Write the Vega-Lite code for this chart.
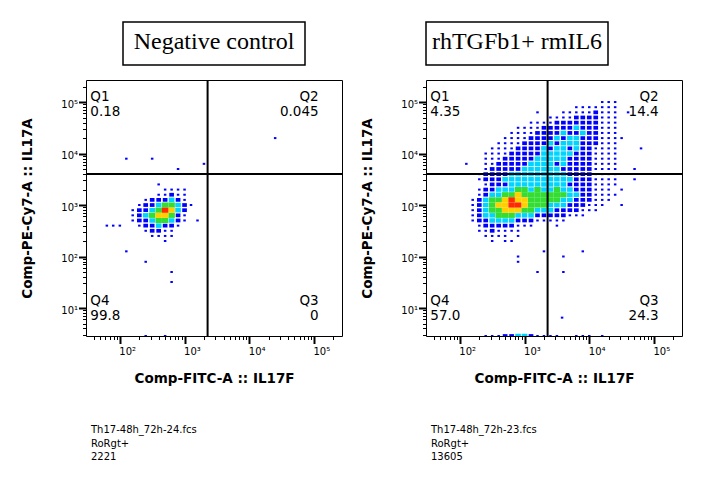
{
  "$schema": "https://vega.github.io/schema/vega-lite/v6.json",
  "padding": {"left": 20, "top": 21, "right": 5, "bottom": 5},
  "background": "white",
  "columns": 2,
  "bounds": "flush",
  "center": true,
  "spacing": {"row": 15, "column": 84},
  "datasets": {
    "neg": [
      {"x":398,"y":2512,"d":1},
      {"x":501,"y":1995,"d":1},{"x":631,"y":1995,"d":1},{"x":794,"y":1995,"d":1},{"x":1000,"y":1995,"d":1},
      {"x":398,"y":1585,"d":1},{"x":501,"y":1585,"d":1},{"x":631,"y":1585,"d":2},{"x":794,"y":1585,"d":1},{"x":1000,"y":1585,"d":1},
      {"x":251,"y":1259,"d":1},{"x":316,"y":1259,"d":2},{"x":398,"y":1259,"d":2},{"x":501,"y":1259,"d":2},{"x":631,"y":1259,"d":3},{"x":794,"y":1259,"d":2},{"x":1000,"y":1259,"d":1},
      {"x":200,"y":1000,"d":1},{"x":251,"y":1000,"d":2},{"x":316,"y":1000,"d":2},{"x":398,"y":1000,"d":3},{"x":501,"y":1000,"d":4},{"x":631,"y":1000,"d":4},{"x":794,"y":1000,"d":3},{"x":1000,"y":1000,"d":2},{"x":1259,"y":1000,"d":1},
      {"x":158,"y":794,"d":1},{"x":200,"y":794,"d":2},{"x":251,"y":794,"d":2},{"x":316,"y":794,"d":3},{"x":398,"y":794,"d":4},{"x":501,"y":794,"d":6},{"x":631,"y":794,"d":5},{"x":794,"y":794,"d":3},{"x":1000,"y":794,"d":2},
      {"x":158,"y":631,"d":1},{"x":200,"y":631,"d":2},{"x":251,"y":631,"d":3},{"x":316,"y":631,"d":4},{"x":398,"y":631,"d":5},{"x":501,"y":631,"d":5},{"x":631,"y":631,"d":4},{"x":794,"y":631,"d":2},{"x":1000,"y":631,"d":1},
      {"x":158,"y":501,"d":1},{"x":200,"y":501,"d":2},{"x":251,"y":501,"d":2},{"x":316,"y":501,"d":3},{"x":398,"y":501,"d":4},{"x":501,"y":501,"d":4},{"x":631,"y":501,"d":3},{"x":794,"y":501,"d":2},{"x":1000,"y":501,"d":1},
      {"x":200,"y":398,"d":1},{"x":251,"y":398,"d":2},{"x":316,"y":398,"d":2},{"x":398,"y":398,"d":3},{"x":501,"y":398,"d":2},{"x":631,"y":398,"d":2},{"x":794,"y":398,"d":1},
      {"x":251,"y":316,"d":1},{"x":316,"y":316,"d":2},{"x":398,"y":316,"d":2},{"x":501,"y":316,"d":1},{"x":631,"y":316,"d":1},
      {"x":316,"y":251,"d":1},{"x":398,"y":251,"d":1},{"x":501,"y":251,"d":1},{"x":631,"y":251,"d":1},
      {"x":501,"y":200,"d":1},
      {"x":126,"y":7943,"d":1},{"x":316,"y":7943,"d":1},{"x":794,"y":5012,"d":1},{"x":1995,"y":6310,"d":1},{"x":25119,"y":19953,"d":1},
      {"x":126,"y":126,"d":1},{"x":251,"y":79,"d":1},{"x":631,"y":50,"d":1},{"x":631,"y":32,"d":1},{"x":1585,"y":501,"d":1},
      {"x":100,"y":398,"d":1},{"x":63,"y":398,"d":1},{"x":79,"y":398,"d":1},{"x":251,"y":2.86,"d":1},{"x":501,"y":2.86,"d":1}
    ],
    "trt": [
      {"x":15849,"y":100000,"d":1},{"x":19953,"y":100000,"d":1},{"x":25119,"y":100000,"d":1},
      {"x":6310,"y":79433,"d":1},{"x":7943,"y":79433,"d":1},{"x":10000,"y":79433,"d":1},{"x":12589,"y":79433,"d":1},{"x":15849,"y":79433,"d":1},{"x":19953,"y":79433,"d":1},{"x":25119,"y":79433,"d":1},
      {"x":1585,"y":63096,"d":1},{"x":3981,"y":63096,"d":1},{"x":5012,"y":63096,"d":1},{"x":6310,"y":63096,"d":1},{"x":7943,"y":63096,"d":1},{"x":10000,"y":63096,"d":1},{"x":12589,"y":63096,"d":2},{"x":15849,"y":63096,"d":1},{"x":19953,"y":63096,"d":1},{"x":25119,"y":63096,"d":1},{"x":39811,"y":63096,"d":1},
      {"x":2512,"y":50119,"d":1},{"x":3162,"y":50119,"d":1},{"x":3981,"y":50119,"d":1},{"x":5012,"y":50119,"d":1},{"x":6310,"y":50119,"d":2},{"x":7943,"y":50119,"d":2},{"x":10000,"y":50119,"d":2},{"x":12589,"y":50119,"d":2},{"x":15849,"y":50119,"d":1},{"x":19953,"y":50119,"d":1},{"x":25119,"y":50119,"d":1},
      {"x":1259,"y":39811,"d":1},{"x":1585,"y":39811,"d":1},{"x":1995,"y":39811,"d":1},{"x":2512,"y":39811,"d":1},{"x":3162,"y":39811,"d":2},{"x":3981,"y":39811,"d":2},{"x":5012,"y":39811,"d":2},{"x":6310,"y":39811,"d":2},{"x":7943,"y":39811,"d":2},{"x":10000,"y":39811,"d":2},{"x":12589,"y":39811,"d":2},{"x":15849,"y":39811,"d":1},{"x":19953,"y":39811,"d":1},{"x":25119,"y":39811,"d":1},
      {"x":794,"y":31623,"d":1},{"x":1000,"y":31623,"d":1},{"x":1259,"y":31623,"d":1},{"x":1585,"y":31623,"d":1},{"x":1995,"y":31623,"d":2},{"x":2512,"y":31623,"d":2},{"x":3162,"y":31623,"d":2},{"x":3981,"y":31623,"d":2},{"x":5012,"y":31623,"d":2},{"x":6310,"y":31623,"d":3},{"x":7943,"y":31623,"d":2},{"x":10000,"y":31623,"d":2},{"x":12589,"y":31623,"d":2},{"x":15849,"y":31623,"d":1},{"x":19953,"y":31623,"d":1},{"x":25119,"y":31623,"d":1},
      {"x":631,"y":25119,"d":1},{"x":794,"y":25119,"d":1},{"x":1000,"y":25119,"d":1},{"x":1259,"y":25119,"d":1},{"x":1585,"y":25119,"d":2},{"x":1995,"y":25119,"d":2},{"x":2512,"y":25119,"d":2},{"x":3162,"y":25119,"d":2},{"x":3981,"y":25119,"d":3},{"x":5012,"y":25119,"d":2},{"x":6310,"y":25119,"d":2},{"x":7943,"y":25119,"d":3},{"x":10000,"y":25119,"d":2},{"x":12589,"y":25119,"d":2},{"x":15849,"y":25119,"d":1},{"x":19953,"y":25119,"d":1},{"x":25119,"y":25119,"d":1},
      {"x":501,"y":19953,"d":1},{"x":631,"y":19953,"d":1},{"x":794,"y":19953,"d":1},{"x":1000,"y":19953,"d":1},{"x":1259,"y":19953,"d":2},{"x":1585,"y":19953,"d":2},{"x":1995,"y":19953,"d":2},{"x":2512,"y":19953,"d":2},{"x":3162,"y":19953,"d":3},{"x":3981,"y":19953,"d":2},{"x":5012,"y":19953,"d":3},{"x":6310,"y":19953,"d":3},{"x":7943,"y":19953,"d":2},{"x":10000,"y":19953,"d":2},{"x":12589,"y":19953,"d":2},{"x":15849,"y":19953,"d":1},{"x":19953,"y":19953,"d":1},{"x":25119,"y":19953,"d":1},{"x":31623,"y":19953,"d":1},
      {"x":398,"y":15849,"d":1},{"x":501,"y":15849,"d":1},{"x":631,"y":15849,"d":1},{"x":794,"y":15849,"d":1},{"x":1000,"y":15849,"d":2},{"x":1259,"y":15849,"d":2},{"x":1585,"y":15849,"d":2},{"x":1995,"y":15849,"d":2},{"x":2512,"y":15849,"d":3},{"x":3162,"y":15849,"d":2},{"x":3981,"y":15849,"d":3},{"x":5012,"y":15849,"d":3},{"x":6310,"y":15849,"d":3},{"x":7943,"y":15849,"d":2},{"x":10000,"y":15849,"d":2},{"x":12589,"y":15849,"d":2},{"x":15849,"y":15849,"d":1},{"x":19953,"y":15849,"d":1},{"x":25119,"y":15849,"d":1},
      {"x":316,"y":12589,"d":1},{"x":398,"y":12589,"d":1},{"x":501,"y":12589,"d":1},{"x":631,"y":12589,"d":1},{"x":794,"y":12589,"d":2},{"x":1000,"y":12589,"d":2},{"x":1259,"y":12589,"d":2},{"x":1585,"y":12589,"d":2},{"x":1995,"y":12589,"d":3},{"x":2512,"y":12589,"d":2},{"x":3162,"y":12589,"d":3},{"x":3981,"y":12589,"d":3},{"x":5012,"y":12589,"d":2},{"x":6310,"y":12589,"d":3},{"x":7943,"y":12589,"d":2},{"x":10000,"y":12589,"d":2},{"x":12589,"y":12589,"d":1},{"x":15849,"y":12589,"d":1},{"x":19953,"y":12589,"d":1},{"x":25119,"y":12589,"d":1},{"x":63096,"y":12589,"d":1},
      {"x":251,"y":10000,"d":1},{"x":316,"y":10000,"d":1},{"x":398,"y":10000,"d":1},{"x":501,"y":10000,"d":1},{"x":631,"y":10000,"d":2},{"x":794,"y":10000,"d":2},{"x":1000,"y":10000,"d":2},{"x":1259,"y":10000,"d":2},{"x":1585,"y":10000,"d":2},{"x":1995,"y":10000,"d":3},{"x":2512,"y":10000,"d":3},{"x":3162,"y":10000,"d":3},{"x":3981,"y":10000,"d":3},{"x":5012,"y":10000,"d":3},{"x":6310,"y":10000,"d":2},{"x":7943,"y":10000,"d":2},{"x":10000,"y":10000,"d":2},{"x":12589,"y":10000,"d":1},{"x":15849,"y":10000,"d":1},{"x":19953,"y":10000,"d":1},{"x":25119,"y":10000,"d":1},
      {"x":251,"y":7943,"d":1},{"x":316,"y":7943,"d":1},{"x":398,"y":7943,"d":1},{"x":501,"y":7943,"d":2},{"x":631,"y":7943,"d":2},{"x":794,"y":7943,"d":2},{"x":1000,"y":7943,"d":2},{"x":1259,"y":7943,"d":2},{"x":1585,"y":7943,"d":3},{"x":1995,"y":7943,"d":3},{"x":2512,"y":7943,"d":3},{"x":3162,"y":7943,"d":3},{"x":3981,"y":7943,"d":3},{"x":5012,"y":7943,"d":2},{"x":6310,"y":7943,"d":2},{"x":7943,"y":7943,"d":2},{"x":10000,"y":7943,"d":2},{"x":12589,"y":7943,"d":1},{"x":15849,"y":7943,"d":1},{"x":19953,"y":7943,"d":1},{"x":25119,"y":7943,"d":1},
      {"x":126,"y":6310,"d":1},{"x":251,"y":6310,"d":1},{"x":316,"y":6310,"d":1},{"x":398,"y":6310,"d":2},{"x":501,"y":6310,"d":2},{"x":631,"y":6310,"d":2},{"x":794,"y":6310,"d":2},{"x":1000,"y":6310,"d":2},{"x":1259,"y":6310,"d":3},{"x":1585,"y":6310,"d":3},{"x":1995,"y":6310,"d":3},{"x":2512,"y":6310,"d":3},{"x":3162,"y":6310,"d":2},{"x":3981,"y":6310,"d":3},{"x":5012,"y":6310,"d":2},{"x":6310,"y":6310,"d":2},{"x":7943,"y":6310,"d":2},{"x":10000,"y":6310,"d":2},{"x":12589,"y":6310,"d":1},{"x":15849,"y":6310,"d":1},{"x":19953,"y":6310,"d":1},{"x":25119,"y":6310,"d":1},
      {"x":251,"y":5012,"d":1},{"x":316,"y":5012,"d":2},{"x":398,"y":5012,"d":2},{"x":501,"y":5012,"d":2},{"x":631,"y":5012,"d":2},{"x":794,"y":5012,"d":2},{"x":1000,"y":5012,"d":3},{"x":1259,"y":5012,"d":3},{"x":1585,"y":5012,"d":3},{"x":1995,"y":5012,"d":3},{"x":2512,"y":5012,"d":3},{"x":3162,"y":5012,"d":3},{"x":3981,"y":5012,"d":2},{"x":5012,"y":5012,"d":2},{"x":6310,"y":5012,"d":2},{"x":7943,"y":5012,"d":2},{"x":10000,"y":5012,"d":2},{"x":12589,"y":5012,"d":1},{"x":15849,"y":5012,"d":1},{"x":19953,"y":5012,"d":1},{"x":25119,"y":5012,"d":1},{"x":50119,"y":5012,"d":1},
      {"x":200,"y":3981,"d":1},{"x":251,"y":3981,"d":2},{"x":316,"y":3981,"d":2},{"x":398,"y":3981,"d":2},{"x":501,"y":3981,"d":2},{"x":631,"y":3981,"d":3},{"x":794,"y":3981,"d":3},{"x":1000,"y":3981,"d":3},{"x":1259,"y":3981,"d":3},{"x":1585,"y":3981,"d":3},{"x":1995,"y":3981,"d":3},{"x":2512,"y":3981,"d":3},{"x":3162,"y":3981,"d":3},{"x":3981,"y":3981,"d":3},{"x":5012,"y":3981,"d":2},{"x":6310,"y":3981,"d":2},{"x":7943,"y":3981,"d":2},{"x":10000,"y":3981,"d":2},{"x":12589,"y":3981,"d":1},{"x":15849,"y":3981,"d":1},{"x":19953,"y":3981,"d":1},{"x":25119,"y":3981,"d":1},
      {"x":200,"y":3162,"d":1},{"x":251,"y":3162,"d":2},{"x":316,"y":3162,"d":2},{"x":398,"y":3162,"d":2},{"x":501,"y":3162,"d":3},{"x":631,"y":3162,"d":3},{"x":794,"y":3162,"d":3},{"x":1000,"y":3162,"d":3},{"x":1259,"y":3162,"d":3},{"x":1585,"y":3162,"d":3},{"x":1995,"y":3162,"d":3},{"x":2512,"y":3162,"d":3},{"x":3162,"y":3162,"d":3},{"x":3981,"y":3162,"d":3},{"x":5012,"y":3162,"d":3},{"x":6310,"y":3162,"d":2},{"x":7943,"y":3162,"d":2},{"x":10000,"y":3162,"d":2},{"x":12589,"y":3162,"d":1},{"x":15849,"y":3162,"d":1},{"x":19953,"y":3162,"d":1},{"x":25119,"y":3162,"d":1},{"x":50119,"y":3162,"d":1},
      {"x":251,"y":2512,"d":1},{"x":316,"y":2512,"d":2},{"x":398,"y":2512,"d":2},{"x":501,"y":2512,"d":2},{"x":631,"y":2512,"d":3},{"x":794,"y":2512,"d":3},{"x":1000,"y":2512,"d":3},{"x":1259,"y":2512,"d":3},{"x":1585,"y":2512,"d":3},{"x":1995,"y":2512,"d":3},{"x":2512,"y":2512,"d":3},{"x":3162,"y":2512,"d":3},{"x":3981,"y":2512,"d":3},{"x":5012,"y":2512,"d":2},{"x":6310,"y":2512,"d":2},{"x":7943,"y":2512,"d":2},{"x":10000,"y":2512,"d":2},{"x":12589,"y":2512,"d":1},{"x":15849,"y":2512,"d":1},{"x":19953,"y":2512,"d":1},{"x":25119,"y":2512,"d":1},
      {"x":200,"y":1995,"d":1},{"x":251,"y":1995,"d":2},{"x":316,"y":1995,"d":2},{"x":398,"y":1995,"d":3},{"x":501,"y":1995,"d":3},{"x":631,"y":1995,"d":3},{"x":794,"y":1995,"d":4},{"x":1000,"y":1995,"d":4},{"x":1259,"y":1995,"d":3},{"x":1585,"y":1995,"d":4},{"x":1995,"y":1995,"d":3},{"x":2512,"y":1995,"d":3},{"x":3162,"y":1995,"d":4},{"x":3981,"y":1995,"d":3},{"x":5012,"y":1995,"d":3},{"x":6310,"y":1995,"d":2},{"x":7943,"y":1995,"d":2},{"x":10000,"y":1995,"d":2},{"x":12589,"y":1995,"d":1},{"x":15849,"y":1995,"d":1},{"x":19953,"y":1995,"d":1},{"x":31623,"y":1995,"d":1},
      {"x":200,"y":1585,"d":1},{"x":251,"y":1585,"d":2},{"x":316,"y":1585,"d":3},{"x":398,"y":1585,"d":3},{"x":501,"y":1585,"d":4},{"x":631,"y":1585,"d":4},{"x":794,"y":1585,"d":5},{"x":1000,"y":1585,"d":4},{"x":1259,"y":1585,"d":4},{"x":1585,"y":1585,"d":4},{"x":1995,"y":1585,"d":4},{"x":2512,"y":1585,"d":4},{"x":3162,"y":1585,"d":4},{"x":3981,"y":1585,"d":4},{"x":5012,"y":1585,"d":3},{"x":6310,"y":1585,"d":3},{"x":7943,"y":1585,"d":2},{"x":10000,"y":1585,"d":2},{"x":12589,"y":1585,"d":1},{"x":15849,"y":1585,"d":1},{"x":19953,"y":1585,"d":1},{"x":25119,"y":1585,"d":1},
      {"x":158,"y":1259,"d":1},{"x":200,"y":1259,"d":2},{"x":251,"y":1259,"d":3},{"x":316,"y":1259,"d":4},{"x":398,"y":1259,"d":4},{"x":501,"y":1259,"d":5},{"x":631,"y":1259,"d":6},{"x":794,"y":1259,"d":5},{"x":1000,"y":1259,"d":5},{"x":1259,"y":1259,"d":4},{"x":1585,"y":1259,"d":4},{"x":1995,"y":1259,"d":4},{"x":2512,"y":1259,"d":4},{"x":3162,"y":1259,"d":4},{"x":3981,"y":1259,"d":3},{"x":5012,"y":1259,"d":3},{"x":6310,"y":1259,"d":2},{"x":7943,"y":1259,"d":2},{"x":10000,"y":1259,"d":2},{"x":12589,"y":1259,"d":1},{"x":15849,"y":1259,"d":1},{"x":19953,"y":1259,"d":1},
      {"x":158,"y":1000,"d":1},{"x":200,"y":1000,"d":2},{"x":251,"y":1000,"d":3},{"x":316,"y":1000,"d":4},{"x":398,"y":1000,"d":5},{"x":501,"y":1000,"d":5},{"x":631,"y":1000,"d":6},{"x":794,"y":1000,"d":6},{"x":1000,"y":1000,"d":5},{"x":1259,"y":1000,"d":4},{"x":1585,"y":1000,"d":4},{"x":1995,"y":1000,"d":4},{"x":2512,"y":1000,"d":3},{"x":3162,"y":1000,"d":3},{"x":3981,"y":1000,"d":3},{"x":5012,"y":1000,"d":2},{"x":6310,"y":1000,"d":2},{"x":7943,"y":1000,"d":2},{"x":10000,"y":1000,"d":1},{"x":12589,"y":1000,"d":1},{"x":15849,"y":1000,"d":1},{"x":31623,"y":1000,"d":1},
      {"x":158,"y":794,"d":1},{"x":200,"y":794,"d":2},{"x":251,"y":794,"d":3},{"x":316,"y":794,"d":4},{"x":398,"y":794,"d":4},{"x":501,"y":794,"d":5},{"x":631,"y":794,"d":5},{"x":794,"y":794,"d":5},{"x":1000,"y":794,"d":4},{"x":1259,"y":794,"d":4},{"x":1585,"y":794,"d":3},{"x":1995,"y":794,"d":3},{"x":2512,"y":794,"d":3},{"x":3162,"y":794,"d":2},{"x":3981,"y":794,"d":2},{"x":5012,"y":794,"d":2},{"x":6310,"y":794,"d":2},{"x":7943,"y":794,"d":1},{"x":10000,"y":794,"d":1},{"x":12589,"y":794,"d":1},
      {"x":158,"y":631,"d":1},{"x":200,"y":631,"d":2},{"x":251,"y":631,"d":3},{"x":316,"y":631,"d":3},{"x":398,"y":631,"d":4},{"x":501,"y":631,"d":4},{"x":631,"y":631,"d":4},{"x":794,"y":631,"d":3},{"x":1000,"y":631,"d":3},{"x":1259,"y":631,"d":3},{"x":1585,"y":631,"d":2},{"x":1995,"y":631,"d":2},{"x":2512,"y":631,"d":2},{"x":3162,"y":631,"d":2},{"x":3981,"y":631,"d":2},{"x":5012,"y":631,"d":1},{"x":6310,"y":631,"d":1},{"x":7943,"y":631,"d":1},
      {"x":158,"y":501,"d":1},{"x":200,"y":501,"d":2},{"x":251,"y":501,"d":2},{"x":316,"y":501,"d":3},{"x":398,"y":501,"d":3},{"x":501,"y":501,"d":3},{"x":631,"y":501,"d":3},{"x":794,"y":501,"d":2},{"x":1000,"y":501,"d":2},{"x":1259,"y":501,"d":2},{"x":1585,"y":501,"d":1},{"x":1995,"y":501,"d":1},{"x":2512,"y":501,"d":1},{"x":3162,"y":501,"d":1},{"x":3981,"y":501,"d":1},
      {"x":200,"y":398,"d":1},{"x":251,"y":398,"d":2},{"x":316,"y":398,"d":2},{"x":398,"y":398,"d":2},{"x":501,"y":398,"d":2},{"x":631,"y":398,"d":2},{"x":794,"y":398,"d":1},{"x":1000,"y":398,"d":1},{"x":1259,"y":398,"d":1},{"x":3162,"y":398,"d":1},
      {"x":200,"y":316,"d":1},{"x":251,"y":316,"d":1},{"x":316,"y":316,"d":2},{"x":398,"y":316,"d":1},{"x":501,"y":316,"d":1},{"x":631,"y":316,"d":1},{"x":794,"y":316,"d":1},
      {"x":251,"y":251,"d":1},{"x":316,"y":251,"d":1},{"x":398,"y":251,"d":1},{"x":501,"y":251,"d":1},{"x":794,"y":251,"d":1},
      {"x":316,"y":200,"d":1},{"x":501,"y":200,"d":1},{"x":631,"y":200,"d":1},
      {"x":794,"y":100,"d":1},{"x":794,"y":79,"d":1},{"x":1585,"y":50,"d":1},{"x":1995,"y":126,"d":1},{"x":3981,"y":100,"d":1},{"x":3981,"y":50,"d":1},{"x":7943,"y":126,"d":1},{"x":3802,"y":6.5,"d":1},
      {"x":251,"y":2.86,"d":1},{"x":316,"y":2.86,"d":1},{"x":398,"y":2.86,"d":1},{"x":501,"y":2.86,"d":2},{"x":631,"y":2.86,"d":2},{"x":794,"y":2.86,"d":3},{"x":1000,"y":2.86,"d":3},{"x":1259,"y":2.86,"d":2},{"x":1585,"y":2.86,"d":1},{"x":1995,"y":2.86,"d":1},{"x":2512,"y":2.86,"d":1},{"x":3162,"y":2.86,"d":1},{"x":6310,"y":2.86,"d":1},{"x":7943,"y":2.86,"d":1},{"x":10000,"y":2.86,"d":1},{"x":15849,"y":2.86,"d":1}
    ],
    "negQ": [
      {"q":"Q1","lab":["Q1","0.18"],"x":35,"y":175000},
      {"q":"Q2","lab":["Q2","0.045"],"x":118000,"y":175000},
      {"q":"Q3","lab":["Q3","0"],"x":118000,"y":19},
      {"q":"Q4","lab":["Q4","99.8"],"x":35,"y":19}
    ],
    "trtQ": [
      {"q":"Q1","lab":["Q1","4.35"],"x":35,"y":175000},
      {"q":"Q2","lab":["Q2","14.4"],"x":118000,"y":175000},
      {"q":"Q3","lab":["Q3","24.3"],"x":118000,"y":19},
      {"q":"Q4","lab":["Q4","57.0"],"x":35,"y":19}
    ],
    "gates": [{"gx":2270,"gy":4000}]
  },
  "concat": [
    {
      "width": 182,
      "height": 43,
      "view": {"stroke": "black", "strokeWidth": 1.5},
      "data": {"values": [{"t": "Negative control"}]},
      "mark": {"type": "text", "font": "Liberation Serif", "fontSize": 24, "baseline": "middle", "dy": -2, "color": "black"},
      "encoding": {"text": {"field": "t", "type": "nominal"}}
    },
    {
      "width": 182,
      "height": 43,
      "view": {"stroke": "black", "strokeWidth": 1.5},
      "data": {"values": [{"t": "rhTGFb1+ rmIL6"}]},
      "mark": {"type": "text", "font": "Liberation Serif", "fontSize": 24, "baseline": "middle", "dy": -2, "color": "black"},
      "encoding": {"text": {"field": "t", "type": "nominal"}}
    },
    {
      "width": 256,
      "height": 256,
      "view": {"stroke": "black", "strokeWidth": 1},
      "title": {"text": ["Th17-48h_72h-24.fcs", "RoRgt+", "2221"], "orient": "bottom", "anchor": "start", "frame": "group", "dx": 5, "offset": 40, "baseline": "top", "fontSize": 10, "fontWeight": "normal", "font": "DejaVu Sans", "lineHeight": 13.5, "color": "black"},
      "layer": [
        {
          "data": {"name": "neg"},
          "mark": {"type": "point", "shape": "M-1.25,-1H1.25V1H-1.25Z", "filled": true, "opacity": 1, "strokeWidth": 0, "clip": true},
          "encoding": {
            "x": {"field": "x", "type": "quantitative", "scale": {"type": "log", "domain": [30, 271000], "nice": false},
              "axis": {"title": "Comp-FITC-A :: IL17F", "grid": false, "domain": false,
                "values": [40,50,60,70,80,90,100,200,300,400,500,600,700,800,900,1000,2000,3000,4000,5000,6000,7000,8000,9000,10000,20000,30000,40000,50000,60000,70000,80000,90000,100000,200000],
                "labelExpr": "abs(log(datum.value)/LN10 - round(log(datum.value)/LN10)) < 0.01 ? '10' + ['⁰','¹','²','³','⁴','⁵'][round(log(datum.value)/LN10)] : ''",
                "tickSize": {"condition": {"test": "abs(log(datum.value)/LN10 - round(log(datum.value)/LN10)) < 0.01", "value": 7.5}, "value": 3.5},
                "tickWidth": {"condition": {"test": "abs(log(datum.value)/LN10 - round(log(datum.value)/LN10)) < 0.01", "value": 2}, "value": 1},
                "labelAlign": "left", "labelOffset": -1, "labelPadding": 3, "titlePadding": 15}},
            "y": {"field": "y", "type": "quantitative", "scale": {"type": "log", "domain": [2.86, 268000], "nice": false},
              "axis": {"title": "Comp-PE-Cy7-A :: IL17A", "grid": false, "domain": false,
                "values": [3,4,5,6,7,8,9,10,20,30,40,50,60,70,80,90,100,200,300,400,500,600,700,800,900,1000,2000,3000,4000,5000,6000,7000,8000,9000,10000,20000,30000,40000,50000,60000,70000,80000,90000,100000,200000],
                "labelExpr": "abs(log(datum.value)/LN10 - round(log(datum.value)/LN10)) < 0.01 ? '10' + ['⁰','¹','²','³','⁴','⁵'][round(log(datum.value)/LN10)] : ''",
                "tickSize": {"condition": {"test": "abs(log(datum.value)/LN10 - round(log(datum.value)/LN10)) < 0.01", "value": 7.5}, "value": 3.5},
                "tickWidth": {"condition": {"test": "abs(log(datum.value)/LN10 - round(log(datum.value)/LN10)) < 0.01", "value": 2}, "value": 1},
                "labelOffset": 2, "labelPadding": 1, "titlePadding": 26}},
            "color": {"field": "d", "type": "ordinal", "scale": {"domain": [1, 2, 3, 4, 5, 6], "range": ["#0000ff", "#0000ff", "#00d4ff", "#33dd33", "#ffd000", "#ff2a00"]}, "legend": null},
            "size": {"field": "d", "type": "quantitative", "scale": {"type": "threshold", "domain": [1.5, 2.5, 3.5], "range": [4, 14, 20, 27]}, "legend": null},
            "order": {"field": "d", "type": "quantitative"}
          }
        },
        {
          "data": {"name": "gates"},
          "mark": {"type": "rule", "color": "black", "strokeWidth": 2},
          "encoding": {"x": {"field": "gx", "type": "quantitative", "scale": {"type": "log", "domain": [30, 271000], "nice": false}}}
        },
        {
          "data": {"name": "gates"},
          "mark": {"type": "rule", "color": "black", "strokeWidth": 2},
          "encoding": {"y": {"field": "gy", "type": "quantitative", "scale": {"type": "log", "domain": [2.86, 268000], "nice": false}}}
        },
        {
          "data": {"name": "negQ"},
          "transform": [{"filter": "datum.q == 'Q1' || datum.q == 'Q4'"}],
          "mark": {"type": "text", "align": "left", "baseline": "top", "font": "DejaVu Sans", "fontSize": 13.5, "lineHeight": 15, "color": "black"},
          "encoding": {
            "x": {"field": "x", "type": "quantitative", "scale": {"type": "log", "domain": [30, 271000], "nice": false}},
            "y": {"field": "y", "type": "quantitative", "scale": {"type": "log", "domain": [2.86, 268000], "nice": false}},
            "text": {"field": "lab"}
          }
        },
        {
          "data": {"name": "negQ"},
          "transform": [{"filter": "datum.q == 'Q2' || datum.q == 'Q3'"}],
          "mark": {"type": "text", "align": "right", "baseline": "top", "font": "DejaVu Sans", "fontSize": 13.5, "lineHeight": 15, "color": "black"},
          "encoding": {
            "x": {"field": "x", "type": "quantitative", "scale": {"type": "log", "domain": [30, 271000], "nice": false}},
            "y": {"field": "y", "type": "quantitative", "scale": {"type": "log", "domain": [2.86, 268000], "nice": false}},
            "text": {"field": "lab"}
          }
        }
      ]
    },
    {
      "width": 256,
      "height": 256,
      "view": {"stroke": "black", "strokeWidth": 1},
      "title": {"text": ["Th17-48h_72h-23.fcs", "RoRgt+", "13605"], "orient": "bottom", "anchor": "start", "frame": "group", "dx": 5, "offset": 40, "baseline": "top", "fontSize": 10, "fontWeight": "normal", "font": "DejaVu Sans", "lineHeight": 13.5, "color": "black"},
      "layer": [
        {
          "data": {"name": "trt"},
          "mark": {"type": "point", "shape": "M-1.25,-1H1.25V1H-1.25Z", "filled": true, "opacity": 1, "strokeWidth": 0, "clip": true},
          "encoding": {
            "x": {"field": "x", "type": "quantitative", "scale": {"type": "log", "domain": [30, 271000], "nice": false},
              "axis": {"title": "Comp-FITC-A :: IL17F", "grid": false, "domain": false,
                "values": [40,50,60,70,80,90,100,200,300,400,500,600,700,800,900,1000,2000,3000,4000,5000,6000,7000,8000,9000,10000,20000,30000,40000,50000,60000,70000,80000,90000,100000,200000],
                "labelExpr": "abs(log(datum.value)/LN10 - round(log(datum.value)/LN10)) < 0.01 ? '10' + ['⁰','¹','²','³','⁴','⁵'][round(log(datum.value)/LN10)] : ''",
                "tickSize": {"condition": {"test": "abs(log(datum.value)/LN10 - round(log(datum.value)/LN10)) < 0.01", "value": 7.5}, "value": 3.5},
                "tickWidth": {"condition": {"test": "abs(log(datum.value)/LN10 - round(log(datum.value)/LN10)) < 0.01", "value": 2}, "value": 1},
                "labelAlign": "left", "labelOffset": -1, "labelPadding": 3, "titlePadding": 15}},
            "y": {"field": "y", "type": "quantitative", "scale": {"type": "log", "domain": [2.86, 268000], "nice": false},
              "axis": {"title": "Comp-PE-Cy7-A :: IL17A", "grid": false, "domain": false,
                "values": [3,4,5,6,7,8,9,10,20,30,40,50,60,70,80,90,100,200,300,400,500,600,700,800,900,1000,2000,3000,4000,5000,6000,7000,8000,9000,10000,20000,30000,40000,50000,60000,70000,80000,90000,100000,200000],
                "labelExpr": "abs(log(datum.value)/LN10 - round(log(datum.value)/LN10)) < 0.01 ? '10' + ['⁰','¹','²','³','⁴','⁵'][round(log(datum.value)/LN10)] : ''",
                "tickSize": {"condition": {"test": "abs(log(datum.value)/LN10 - round(log(datum.value)/LN10)) < 0.01", "value": 7.5}, "value": 3.5},
                "tickWidth": {"condition": {"test": "abs(log(datum.value)/LN10 - round(log(datum.value)/LN10)) < 0.01", "value": 2}, "value": 1},
                "labelOffset": 2, "labelPadding": 1, "titlePadding": 26}},
            "color": {"field": "d", "type": "ordinal", "scale": {"domain": [1, 2, 3, 4, 5, 6], "range": ["#0000ff", "#0000ff", "#00d4ff", "#33dd33", "#ffd000", "#ff2a00"]}, "legend": null},
            "size": {"field": "d", "type": "quantitative", "scale": {"type": "threshold", "domain": [1.5, 2.5, 3.5], "range": [4, 14, 20, 27]}, "legend": null},
            "order": {"field": "d", "type": "quantitative"}
          }
        },
        {
          "data": {"name": "gates"},
          "mark": {"type": "rule", "color": "black", "strokeWidth": 2},
          "encoding": {"x": {"field": "gx", "type": "quantitative", "scale": {"type": "log", "domain": [30, 271000], "nice": false}}}
        },
        {
          "data": {"name": "gates"},
          "mark": {"type": "rule", "color": "black", "strokeWidth": 2},
          "encoding": {"y": {"field": "gy", "type": "quantitative", "scale": {"type": "log", "domain": [2.86, 268000], "nice": false}}}
        },
        {
          "data": {"name": "trtQ"},
          "transform": [{"filter": "datum.q == 'Q1' || datum.q == 'Q4'"}],
          "mark": {"type": "text", "align": "left", "baseline": "top", "font": "DejaVu Sans", "fontSize": 13.5, "lineHeight": 15, "color": "black"},
          "encoding": {
            "x": {"field": "x", "type": "quantitative", "scale": {"type": "log", "domain": [30, 271000], "nice": false}},
            "y": {"field": "y", "type": "quantitative", "scale": {"type": "log", "domain": [2.86, 268000], "nice": false}},
            "text": {"field": "lab"}
          }
        },
        {
          "data": {"name": "trtQ"},
          "transform": [{"filter": "datum.q == 'Q2' || datum.q == 'Q3'"}],
          "mark": {"type": "text", "align": "right", "baseline": "top", "font": "DejaVu Sans", "fontSize": 13.5, "lineHeight": 15, "color": "black"},
          "encoding": {
            "x": {"field": "x", "type": "quantitative", "scale": {"type": "log", "domain": [30, 271000], "nice": false}},
            "y": {"field": "y", "type": "quantitative", "scale": {"type": "log", "domain": [2.86, 268000], "nice": false}},
            "text": {"field": "lab"}
          }
        }
      ]
    }
  ],
  "config": {
    "font": "DejaVu Sans",
    "axis": {
      "labelFont": "DejaVu Sans", "labelFontSize": 10, "labelColor": "black", "tickColor": "black",
      "titleFont": "DejaVu Sans", "titleFontSize": 13.5, "titleFontWeight": "bold", "titleColor": "black",
      "labelOverlap": false, "labelBound": false, "labelFlush": false
    }
  }
}
